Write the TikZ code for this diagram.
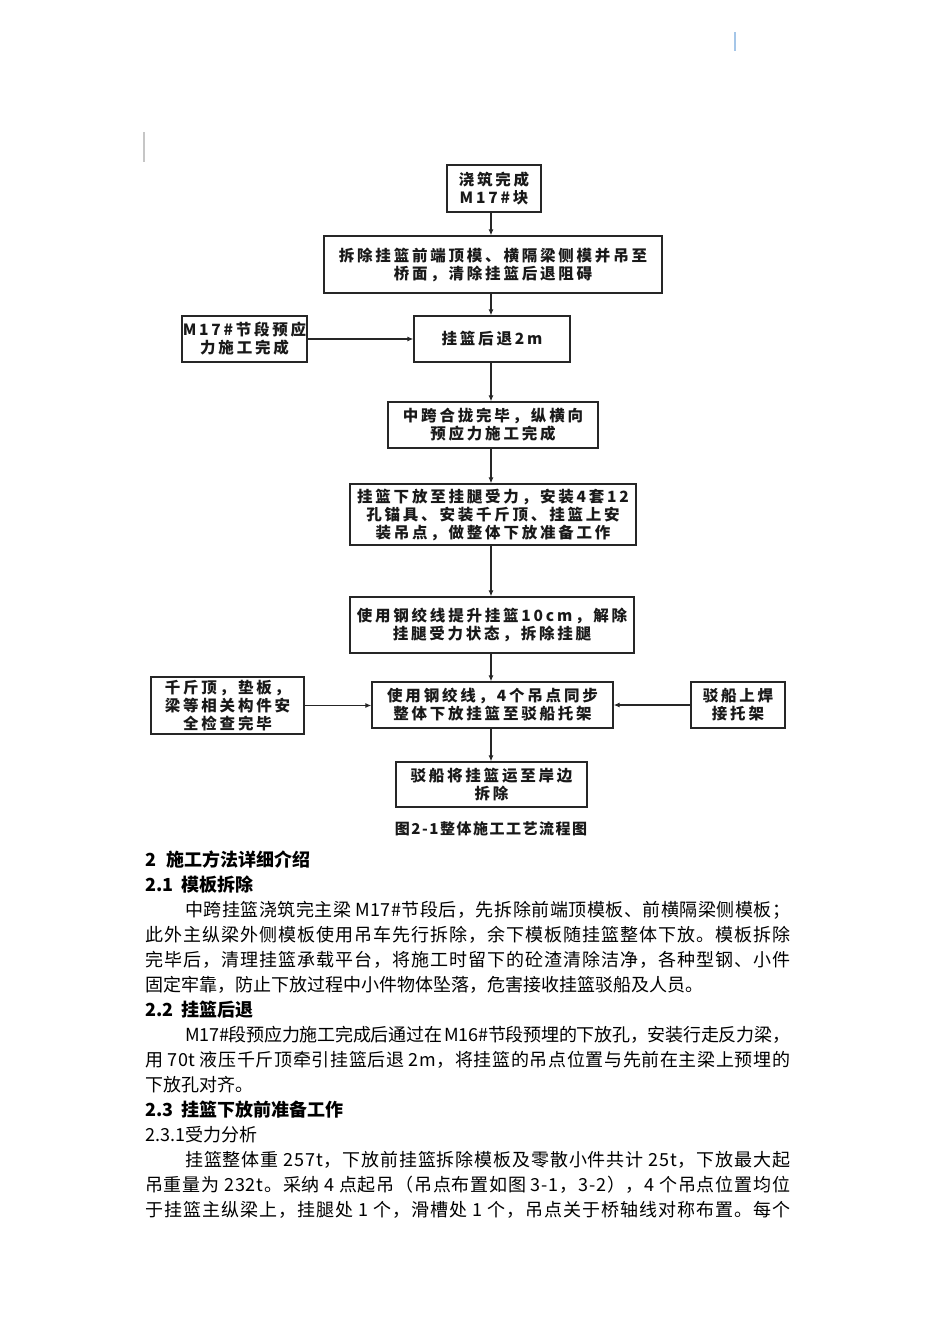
\documentclass[tikz,border=0pt]{standalone}
\usepackage{fontspec}
\setmainfont{Noto Sans CJK SC}
\newfontfamily\boxfont[LetterSpace=18]{Noto Sans CJK SC}
\newfontfamily\capfont[LetterSpace=10]{Noto Sans CJK SC}
\usetikzlibrary{arrows.meta}
% even justification of a single line: glue between every token
\def\spreadend{\spreadend}
\def\spreadit#1{\spreadfirst#1\spreadend}
\def\spreadfirst#1{#1\spreadaux}
\def\spreadaux#1{\ifx#1\spreadend\else\hskip 0pt plus 1pt minus 0.6pt\relax#1\expandafter\spreadaux\fi}
\newcommand\jline[2]{\hbox to #1{\spreadit{#2}}}
\definecolor{markblue}{RGB}{165,198,232}
\tikzset{
  box/.style={draw=black!85, line width=1.3pt, inner sep=0pt, align=center,
    text=black!90, font=\boxfont\bfseries\fontsize{15.5}{18}\selectfont},
  flow/.style={draw=black!85, line width=1.1pt, -{Latex[length=6pt,width=5pt]}},
  body/.style={anchor=base west, inner sep=0pt, text=black, font=\fontsize{18}{22}\selectfont},
  head/.style={anchor=base west, inner sep=0pt, text=black, font=\bfseries\fontsize{18}{22}\selectfont},
  captext/.style={inner sep=0pt, text=black!90, font=\capfont\bfseries\fontsize{15}{18}\selectfont},
}
\begin{document}
\begin{tikzpicture}[x=1pt,y=-1pt]
\useasboundingbox (0,0) rectangle (950,1344);
% small marks
\draw[gray!45, line width=1.5pt] (144,132) -- (144,162);
\draw[markblue, line width=2pt] (735,32) -- (735,51);
% flow boxes
\node[box, minimum width=94pt,  minimum height=47pt] (b1)  at (494,188.5) {浇筑完成\\M17\#块};
\node[box, minimum width=338pt, minimum height=57pt] (b2)  at (493,264.5) {拆除挂篮前端顶模、横隔梁侧模并吊至\\桥面，清除挂篮后退阻碍};
\node[box, minimum width=125pt, minimum height=46pt] (b3l) at (244.5,339) {M17\#节段预应\\力施工完成};
\node[box, minimum width=156pt, minimum height=46pt] (b3)  at (492,339) {挂篮后退2m};
\node[box, minimum width=210pt, minimum height=46pt] (b4)  at (493,425) {中跨合拢完毕，纵横向\\预应力施工完成};
\node[box, minimum width=286pt, minimum height=61pt] (b5)  at (493,514.5) {挂篮下放至挂腿受力，安装4套12\\孔锚具、安装千斤顶、挂篮上安\\装吊点，做整体下放准备工作};
\node[box, minimum width=284pt, minimum height=56pt] (b6)  at (492,625) {使用钢绞线提升挂篮10cm，解除\\挂腿受力状态，拆除挂腿};
\node[box, minimum width=153pt, minimum height=57pt] (b7l) at (227.5,705.5) {千斤顶，垫板，\\梁等相关构件安\\全检查完毕};
\node[box, minimum width=241pt, minimum height=46pt] (b7)  at (492.5,705) {使用钢绞线，4个吊点同步\\整体下放挂篮至驳船托架};
\node[box, minimum width=94pt,  minimum height=46pt] (b7r) at (738,705) {驳船上焊\\接托架};
\node[box, minimum width=191pt, minimum height=45pt] (b8)  at (491.5,784.5) {驳船将挂篮运至岸边\\拆除};
\node[captext] (capt) at (491,829) {图2-1整体施工工艺流程图};
% connectors
\coordinate (ax) at (491,0);
\draw[flow] (ax |- b1.south) -- (ax |- b2.north);
\draw[flow] (ax |- b2.south) -- (ax |- b3.north);
\draw[flow] (ax |- b3.south) -- (ax |- b4.north);
\draw[flow] (ax |- b4.south) -- (ax |- b5.north);
\draw[flow] (ax |- b5.south) -- (ax |- b6.north);
\draw[flow] (ax |- b6.south) -- (ax |- b7.north);
\draw[flow] (ax |- b7.south) -- (ax |- b8.north);
\draw[flow] (b3l.east) -- (b3.west);
\draw[flow] (b7l.east) -- (b7l.east -| b7.west);
\draw[flow] (b7r.west) -- (b7r.west -| b7.east);
% body text
\node[head] (t1)  at (145,866)  {2\hspace{10pt}施工方法详细介绍};
\node[head] (t2)  at (145,891)  {2.1\hspace{8pt}模板拆除};
\node[body] (t3)  at (185,916)  {\jline{605pt}{中跨挂篮浇筑完主梁\,M17\#节段后，先拆除前端顶模板、前横隔梁侧模板；}};
\node[body] (t4)  at (145,941)  {\jline{645pt}{此外主纵梁外侧模板使用吊车先行拆除，余下模板随挂篮整体下放。模板拆除}};
\node[body] (t5)  at (145,966)  {\jline{645pt}{完毕后，清理挂篮承载平台，将施工时留下的砼渣清除洁净，各种型钢、小件}};
\node[body] (t6)  at (145,991)  {固定牢靠，防止下放过程中小件物体坠落，危害接收挂篮驳船及人员。};
\node[head] (t7)  at (145,1016) {2.2\hspace{8pt}挂篮后退};
\node[body] (t8)  at (185,1041) {\jline{605pt}{M17\#段预应力施工完成后通过在\,M16\#节段预埋的下放孔，安装行走反力梁，}};
\node[body] (t9)  at (145,1066) {\jline{645pt}{用\,70t\,液压千斤顶牵引挂篮后退\,2m，将挂篮的吊点位置与先前在主梁上预埋的}};
\node[body] (t10) at (145,1091) {下放孔对齐。};
\node[head] (t11) at (145,1116) {2.3\hspace{8pt}挂篮下放前准备工作};
\node[body] (t12) at (145,1141) {2.3.1受力分析};
\node[body] (t13) at (185,1166) {\jline{605pt}{挂篮整体重\,257t，下放前挂篮拆除模板及零散小件共计\,25t，下放最大起}};
\node[body] (t14) at (145,1191) {\jline{645pt}{吊重量为\,232t。采纳\,4\,点起吊（吊点布置如图\,3-1，3-2），4\,个吊点位置均位}};
\node[body] (t15) at (145,1216) {\jline{645pt}{于挂篮主纵梁上，挂腿处\,1\,个，滑槽处\,1\,个，吊点关于桥轴线对称布置。每个}};
\end{tikzpicture}
\end{document}
